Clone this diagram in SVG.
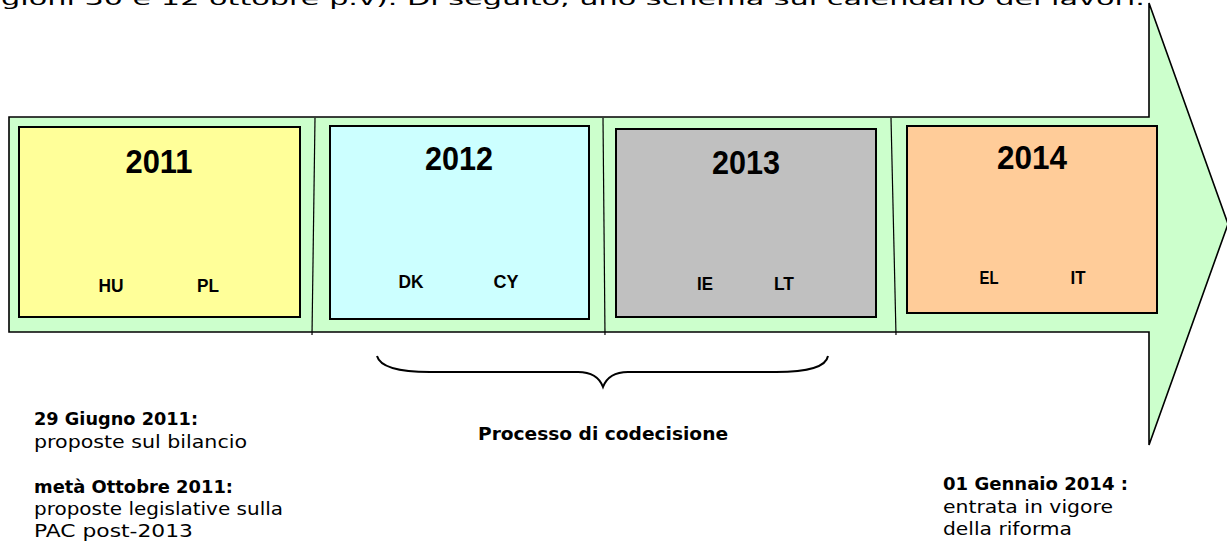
<svg xmlns="http://www.w3.org/2000/svg" width="1227" height="558" viewBox="0 0 1227 558">
<style>
.arrow{fill:#CCFFCC;stroke:#000;stroke-width:1.6;stroke-linejoin:miter}
.box{stroke:#000;stroke-width:2}
.div{stroke:#000;stroke-width:1.2;fill:none}
.year{font-family:"Liberation Sans",Arial,sans-serif;font-weight:bold;font-size:34px;text-anchor:middle;fill:#000}
.cc{font-family:"Liberation Sans",Arial,sans-serif;font-weight:bold;font-size:18px;text-anchor:middle;fill:#000}
.note{font-family:"DejaVu Sans","Noto Sans",sans-serif;font-size:18px;fill:#000}
.b{font-weight:bold}
.brace{fill:none;stroke:#000;stroke-width:2}
</style>
<rect width="1227" height="558" fill="#fff"/>
<text id="top-text" class="note" x="1" y="5" font-size="24" textLength="1144" lengthAdjust="spacingAndGlyphs">gioni 30 e 12 ottobre p.v). Di seguito, uno schema sul calendario dei lavori.</text>
<g id="timeline-arrow">
<path class="arrow" d="M9,117 L1149,117 L1149,3 L1228,224 L1149,445 L1149,332 L9,332 Z"/>
</g>
<g id="dividers">
<line class="div" x1="315" y1="118" x2="312" y2="335"/>
<line class="div" x1="603" y1="118" x2="605" y2="335"/>
<line class="div" x1="891" y1="118" x2="896" y2="335"/>
</g>
<g id="node-2011">
<rect class="box" x="19" y="127" width="281" height="190" fill="#FFFF99"/>
<text class="year" x="159" y="173" textLength="67" lengthAdjust="spacingAndGlyphs">2011</text>
<text class="cc" x="111" y="292" textLength="25" lengthAdjust="spacingAndGlyphs">HU</text>
<text class="cc" x="208" y="292" textLength="22" lengthAdjust="spacingAndGlyphs">PL</text>
</g>
<g id="node-2012">
<rect class="box" x="330" y="126" width="259" height="193" fill="#CCFFFF"/>
<text class="year" x="459" y="170" textLength="68" lengthAdjust="spacingAndGlyphs">2012</text>
<text class="cc" x="411" y="288" textLength="25" lengthAdjust="spacingAndGlyphs">DK</text>
<text class="cc" x="506" y="288" textLength="25" lengthAdjust="spacingAndGlyphs">CY</text>
</g>
<g id="node-2013">
<rect class="box" x="616" y="129" width="260" height="188" fill="#C0C0C0"/>
<text class="year" x="746" y="174" textLength="68" lengthAdjust="spacingAndGlyphs">2013</text>
<text class="cc" x="705" y="290" textLength="16" lengthAdjust="spacingAndGlyphs">IE</text>
<text class="cc" x="784" y="290" textLength="20" lengthAdjust="spacingAndGlyphs">LT</text>
</g>
<g id="node-2014">
<rect class="box" x="907" y="126" width="250" height="187" fill="#FFCC99"/>
<text class="year" x="1032" y="169" textLength="70" lengthAdjust="spacingAndGlyphs">2014</text>
<text class="cc" x="989" y="284" textLength="19" lengthAdjust="spacingAndGlyphs">EL</text>
<text class="cc" x="1078" y="284" textLength="15" lengthAdjust="spacingAndGlyphs">IT</text>
</g>
<g id="connectors">
<path class="brace" d="M377,356 C380,367 398,372 430,372 L578,372 C594,372 600,379 603,387 C606,379 612,372 628,372 L776,372 C808,372 826,367 828,356"/>
</g>
<g id="node-codecisione">
<text class="note b" x="603" y="440" text-anchor="middle" textLength="250" lengthAdjust="spacingAndGlyphs">Processo di codecisione</text>
</g>
<g id="node-giugno">
<text class="note b" x="34" y="425" textLength="164" lengthAdjust="spacingAndGlyphs">29 Giugno 2011:</text>
<text class="note" x="34" y="448" textLength="213" lengthAdjust="spacingAndGlyphs">proposte sul bilancio</text>
</g>
<g id="node-ottobre">
<text class="note b" x="34" y="493" textLength="199" lengthAdjust="spacingAndGlyphs">metà Ottobre 2011:</text>
<text class="note" x="34" y="515" textLength="249" lengthAdjust="spacingAndGlyphs">proposte legislative sulla</text>
<text class="note" x="34" y="537" textLength="159" lengthAdjust="spacingAndGlyphs">PAC post-2013</text>
</g>
<g id="node-gennaio">
<text class="note b" x="943" y="490" textLength="185" lengthAdjust="spacingAndGlyphs">01 Gennaio 2014 :</text>
<text class="note" x="943" y="513" textLength="170" lengthAdjust="spacingAndGlyphs">entrata in vigore</text>
<text class="note" x="943" y="535" textLength="129" lengthAdjust="spacingAndGlyphs">della riforma</text>
</g>
</svg>
